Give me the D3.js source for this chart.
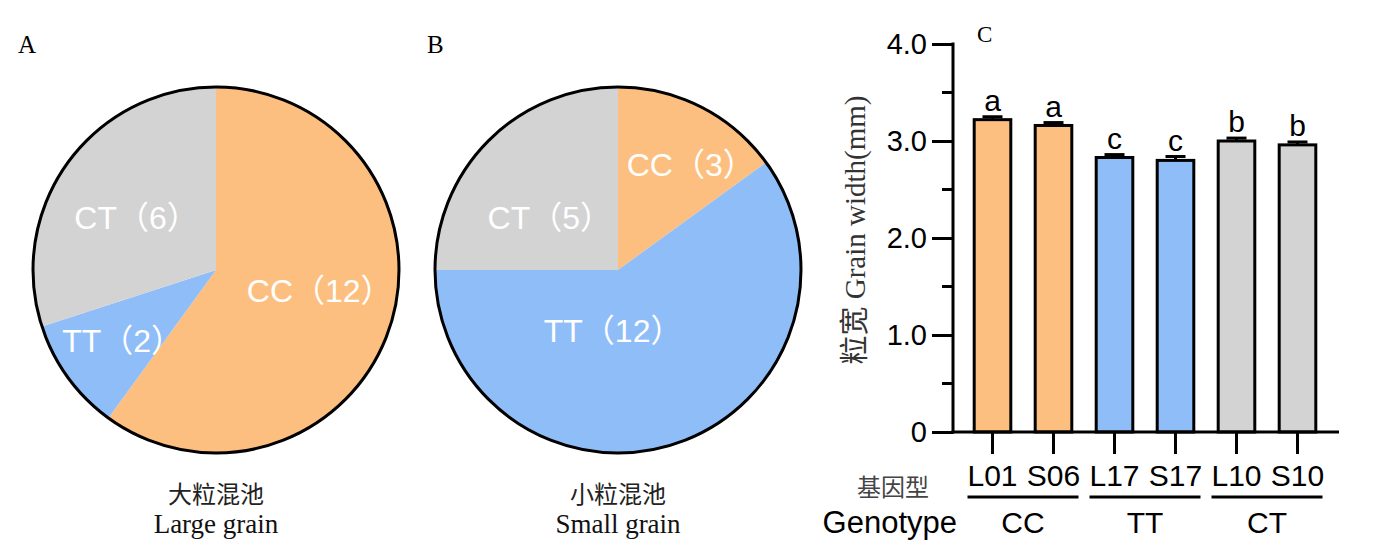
<!DOCTYPE html>
<html>
<head>
<meta charset="utf-8">
<script src="https://cdn.jsdelivr.net/npm/d3@7"></script>
<style>
  body { margin: 0; background: #fff; }
  svg { display: block; }
</style>
</head>
<body>
<svg id="chart" width="1392" height="558"></svg>
<script>
// data
const genotypes = ["CC", "TT", "CT"];
const genotypeColors = ["#FDBF80", "#8FBDF8", "#D3D3D3"];
const largeCounts = [12, 2, 6];
const smallCounts = [3, 12, 5];

const lines = ["L01", "S06", "L17", "S17", "L10", "S10"];
const lineGenotype = ["CC", "CC", "TT", "TT", "CT", "CT"];
const widthMean = [3.22, 3.16, 2.83, 2.80, 3.00, 2.96];
const widthErr = [0.03, 0.03, 0.03, 0.04, 0.03, 0.03];
const sigLetters = ["a", "a", "c", "c", "b", "b"];
const yTicks = [0, 1, 2, 3, 4];
const yTickLabels = ["0", "1.0", "2.0", "3.0", "4.0"];
const yMinorTicks = [0.5, 1.5, 2.5, 3.5];

const sans = "'Liberation Sans', Arial, 'Noto Sans CJK SC', sans-serif";
const serif = "'Liberation Serif', 'Times New Roman', 'Noto Sans CJK SC', serif";

const svg = d3.select("#chart");
const color = d3.scaleOrdinal().domain(genotypes).range(genotypeColors);

// ---------- pies ----------
const r = 183;
const pie = d3.pie().sort(null).value((d) => d.count);
const arc = d3.arc().innerRadius(0).outerRadius(r);
const labelArc = d3.arc().innerRadius(r * 0.55).outerRadius(r * 0.55);

function drawPie(cx, cy, counts, nudges, panel, titleZh, titleEn) {
  const data = genotypes.map((g, i) => ({ g: g, count: counts[i] }));
  const g = svg.append("g").attr("transform", `translate(${cx},${cy})`);

  g.selectAll("path.slice")
    .data(pie(data))
    .join("path")
    .attr("class", "slice")
    .attr("d", arc)
    .attr("fill", (d) => color(d.data.g));

  g.append("circle")
    .attr("r", r)
    .attr("fill", "none")
    .attr("stroke", "#000")
    .attr("stroke-width", 3);

  g.selectAll("text.lbl")
    .data(pie(data))
    .join("text")
    .attr("class", "lbl")
    .attr("x", (d, i) => labelArc.centroid(d)[0] + nudges[i][0])
    .attr("y", (d, i) => labelArc.centroid(d)[1] + nudges[i][1])
    .attr("dy", "0.36em")
    .attr("text-anchor", "middle")
    .attr("fill", "#fff")
    .style("font-family", sans)
    .style("font-size", "32px")
    .text((d) => `${d.data.g}（${d.data.count}）`);

  svg.append("text")
    .attr("x", cx).attr("y", 503)
    .attr("text-anchor", "middle")
    .style("font-family", serif)
    .style("font-size", "24px")
    .attr("fill", "#222")
    .text(titleZh);

  svg.append("text")
    .attr("x", cx).attr("y", 533)
    .attr("text-anchor", "middle")
    .style("font-family", serif)
    .style("font-size", "27px")
    .attr("fill", "#111")
    .text(titleEn);

  svg.append("text")
    .attr("x", panel[1]).attr("y", 53)
    .style("font-family", serif)
    .style("font-size", "25px")
    .text(panel[0]);
}

drawPie(216, 270, largeCounts, [[8, -11], [-12, 11], [2, 7]], ["A", 18], "大粒混池", "Large grain");
drawPie(618, 270, smallCounts, [[27, -16], [-36, -35], [3, 19]], ["B", 427], "小粒混池", "Small grain");

// ---------- bar chart ----------
const x0 = 953, x1 = 1339, yBase = 432, yTop = 44;
const x = d3.scaleBand().domain(lines).range([962, 1328]).paddingInner(0.4).paddingOuter(0.2);
const y = d3.scaleLinear().domain([0, 4]).range([yBase, yTop]);

const bars = svg.append("g");
bars.selectAll("rect")
  .data(lines)
  .join("rect")
  .attr("x", (d) => x(d))
  .attr("y", (d, i) => y(widthMean[i]))
  .attr("width", x.bandwidth())
  .attr("height", (d, i) => yBase - y(widthMean[i]))
  .attr("fill", (d, i) => color(lineGenotype[i]))
  .attr("stroke", "#000")
  .attr("stroke-width", 3);

// error bars
const err = svg.append("g").attr("stroke", "#000").attr("stroke-width", 3);
lines.forEach((d, i) => {
  const cx = x(d) + x.bandwidth() / 2;
  err.append("line")
    .attr("x1", cx).attr("x2", cx)
    .attr("y1", y(widthMean[i])).attr("y2", y(widthMean[i] + widthErr[i]));
  err.append("line")
    .attr("x1", cx - 10).attr("x2", cx + 10)
    .attr("y1", y(widthMean[i] + widthErr[i])).attr("y2", y(widthMean[i] + widthErr[i]));
});

svg.append("g")
  .selectAll("text")
  .data(lines)
  .join("text")
  .attr("x", (d) => x(d) + x.bandwidth() / 2)
  .attr("y", (d, i) => y(widthMean[i] + widthErr[i]) - 6)
  .attr("text-anchor", "middle")
  .style("font-family", sans)
  .style("font-size", "30px")
  .text((d, i) => sigLetters[i]);

// y axis
const yAxis = svg.append("g")
  .attr("transform", `translate(${x0},0)`)
  .call(d3.axisLeft(y).tickValues(yTicks).tickSize(21).tickPadding(5)
    .tickFormat((d, i) => yTickLabels[i]));
yAxis.select(".domain").remove();
yAxis.selectAll(".tick line").attr("stroke-width", 3);
yAxis.selectAll(".tick text")
  .style("font-family", sans)
  .style("font-size", "29px")
  .attr("fill", "#000");
yAxis.append("g")
  .selectAll("line")
  .data(yMinorTicks)
  .join("line")
  .attr("x1", -11).attr("x2", 0)
  .attr("y1", (d) => y(d)).attr("y2", (d) => y(d))
  .attr("stroke", "#000").attr("stroke-width", 3);
yAxis.append("line")
  .attr("x1", 0).attr("x2", 0)
  .attr("y1", y(0) + 1.5).attr("y2", y(4) - 1.5)
  .attr("stroke", "#000").attr("stroke-width", 3);

// x axis
const xAxis = svg.append("g")
  .attr("transform", `translate(0,${yBase})`)
  .call(d3.axisBottom(x).tickSize(22).tickPadding(11));
xAxis.select(".domain").remove();
xAxis.selectAll(".tick line").attr("stroke-width", 3);
xAxis.selectAll(".tick text")
  .style("font-family", sans)
  .style("font-size", "30px")
  .attr("fill", "#000");
xAxis.append("line")
  .attr("x1", x0 - 1.5).attr("x2", x1)
  .attr("y1", 0).attr("y2", 0)
  .attr("stroke", "#000").attr("stroke-width", 3);

// genotype groups
genotypes.forEach((gt) => {
  const members = lines.filter((d, i) => lineGenotype[i] === gt);
  const left = x(members[0]) + x.bandwidth() / 2 - 25;
  const right = x(members[members.length - 1]) + x.bandwidth() / 2 + 25;
  svg.append("line")
    .attr("x1", left).attr("x2", right)
    .attr("y1", 497).attr("y2", 497)
    .attr("stroke", "#000").attr("stroke-width", 3);
  svg.append("text")
    .attr("x", (left + right) / 2).attr("y", 533)
    .attr("text-anchor", "middle")
    .style("font-family", sans)
    .style("font-size", "30px")
    .text(gt);
});

svg.append("text")
  .attr("x", 893).attr("y", 496)
  .attr("text-anchor", "middle")
  .style("font-family", serif)
  .style("font-size", "24px")
  .attr("fill", "#444")
  .text("基因型");

svg.append("text")
  .attr("x", 957).attr("y", 533)
  .attr("text-anchor", "end")
  .style("font-family", sans)
  .style("font-size", "31px")
  .text("Genotype");

svg.append("text")
  .attr("transform", "translate(865,230) rotate(-90)")
  .attr("text-anchor", "middle")
  .style("font-family", serif)
  .style("font-size", "29px")
  .attr("fill", "#333")
  .text("粒宽 Grain width(mm)");

svg.append("text")
  .attr("x", 977).attr("y", 42)
  .style("font-family", serif)
  .style("font-size", "23px")
  .text("C");
</script>
</body>
</html>
